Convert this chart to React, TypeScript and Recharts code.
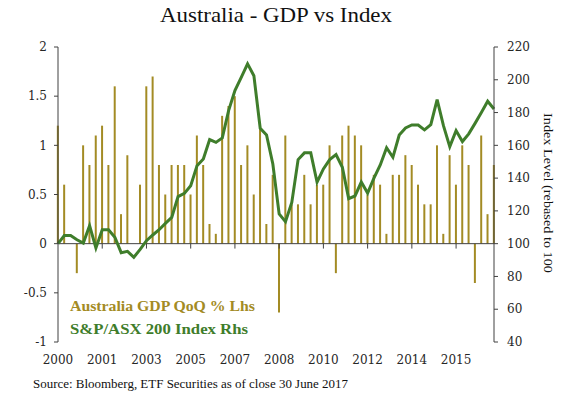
import React from "react";
import {
  ComposedChart,
  Bar,
  Line,
  XAxis,
  YAxis,
  ReferenceLine,
} from "recharts";

/* quarterly, 2000Q1 .. 2017Q2 */
const gdpQoQ = [
  1.2, 0.6, 0, -0.3, 1.0, 0.8, 1.1, 1.2, 0.8, 1.6,
  0.3, 0.9, 0, 0.6, 1.6, 1.7, 0.8, 0.5, 0.8, 0.8,
  0.8, 0.5, 1.1, 0.8, 0.2, 0.1, 1.3, 1.4, 1.5, 0.8,
  1.0, 0.5, 1.2, 0.2, 0.7, -0.7, 1.1, 0.4, 0.4, 0.7,
  0.4, 0.6, 0.6, 1.0, -0.3, 1.1, 1.2, 1.1, 1.0, 0.5,
  0.7, 0.6, 0.1, 0.7, 0.7, 0.9, 0.8, 0.6, 0.4, 0.4,
  1.0, 0.1, 0.9, 0.6, 1.0, 0.8, -0.4, 1.1, 0.3, 0.8,
];

const asx200 = [
  100, 105, 105, 102.4, 100.4, 111, 97.4, 108.5, 108.5, 103.9,
  94.5, 95.3, 91.7, 96.5, 101.8, 105.3, 108.5, 112.4, 116, 128.7,
  130.7, 135.4, 147.6, 151.7, 163.5, 161.8, 164.5, 181.2, 193.4, 201.5,
  209.7, 202.5, 170.4, 166.3, 148.6, 118.1, 113.4, 125.2, 151.3, 155.4,
  155.4, 137.5, 145.6, 151.3, 154.3, 146.6, 127.5, 129.1, 137.6, 130.9,
  140, 148, 158.5, 152.7, 166.3, 170.6, 172.4, 172.4, 169.4, 172.6,
  187.9, 172, 159.2, 169, 162.3, 167, 173.4, 180, 186.9, 182.2,
];

const yearLabels = ["2000", "2001", "2003", "2005", "2007", "2008", "2010", "2012", "2014", "2015"];
const xTicks = yearLabels.map((_, i) => i * 7);
const leftTicks = [-1, -0.5, 0, 0.5, 1, 1.5, 2];
const rightTicks = [40, 60, 80, 100, 120, 140, 160, 180, 200, 220];

const data = gdpQoQ.map((g, i) => ({ q: i, gdp: g, asx: asx200[i] }));

const GOLD = "#a38b24";
const GREEN = "#3f7d2b";
const AXIS = "#404040";
const FONT = "'Liberation Serif', serif";
const TICK_FONT = "'DejaVu Serif', serif";

const tickStyle = { fill: "#262626", fontSize: 12, fontFamily: TICK_FONT };

export default function App() {
  return (
    <div style={{ position: "absolute", left: 0, top: 0, width: 561, height: 395, background: "#fff" }}>
      <ComposedChart
        width={561}
        height={395}
        data={data}
        margin={{ top: 47, right: 0, bottom: 23, left: 0 }}
      >
        <XAxis
          dataKey="q"
          type="number"
          domain={[0, 69]}
          ticks={xTicks}
          tickFormatter={(v: number) => yearLabels[v / 7] ?? ""}
          axisLine={false}
          tickLine={false}
          tickMargin={7}
          height={30}
          tick={tickStyle}
          interval={0}
        />
        <YAxis
          yAxisId="left"
          domain={[-1, 2]}
          ticks={leftTicks}
          tickFormatter={(v: number) => String(v)}
          width={58}
          tickSize={4}
          tickMargin={7}
          axisLine={{ stroke: AXIS }}
          tickLine={{ stroke: AXIS }}
          tick={tickStyle}
          interval={0}
        />
        <YAxis
          yAxisId="right"
          orientation="right"
          domain={[40, 220]}
          ticks={rightTicks}
          width={67}
          tickSize={4}
          tickMargin={9}
          axisLine={{ stroke: AXIS }}
          tickLine={{ stroke: AXIS }}
          tick={{ ...tickStyle, textAnchor: "start" }}
          interval={0}
        />
        <Bar
          yAxisId="left"
          dataKey="gdp"
          fill={GOLD}
          barSize={2}
          isAnimationActive={false}
        />
        <ReferenceLine yAxisId="left" y={0} stroke={AXIS} strokeWidth={1} />
        {xTicks.slice(1).map((t) => (
          <ReferenceLine
            key={t}
            yAxisId="left"
            segment={[{ x: t, y: 0 }, { x: t, y: -0.05 }]}
            stroke={AXIS}
          />
        ))}
        <Line
          yAxisId="right"
          type="linear"
          dataKey="asx"
          stroke={GREEN}
          strokeWidth={3}
          dot={false}
          isAnimationActive={false}
        />
      </ComposedChart>
      <svg
        width={561}
        height={395}
        style={{ position: "absolute", left: 0, top: 0, pointerEvents: "none" }}
      >
        <text x={276} y={22} textAnchor="middle" fontFamily={FONT} fontSize={22} fill="#111"
          textLength={232} lengthAdjust="spacingAndGlyphs">
          Australia - GDP vs Index
        </text>
        <text x={70} y={311} fontFamily={FONT} fontWeight="bold" fontSize={14} fill={GOLD}
          textLength={185} lengthAdjust="spacingAndGlyphs">
          Australia GDP QoQ % Lhs
        </text>
        <text x={70} y={334} fontFamily={FONT} fontWeight="bold" fontSize={14} fill={GREEN}
          textLength={178} lengthAdjust="spacingAndGlyphs">
          S&amp;P/ASX 200 Index Rhs
        </text>
        <text x={33} y={388} fontFamily={FONT} fontSize={12} fill="#111"
          textLength={315} lengthAdjust="spacingAndGlyphs">
          Source: Bloomberg, ETF Securities as of close 30 June 2017
        </text>
        <text
          x={0}
          y={0}
          transform="translate(544,193) rotate(90)"
          textAnchor="middle"
          fontFamily={FONT}
          fontSize={13}
          fill="#111"
          textLength={160}
          lengthAdjust="spacingAndGlyphs"
        >
          Index Level (rebased to 100
        </text>
      </svg>
    </div>
  );
}
